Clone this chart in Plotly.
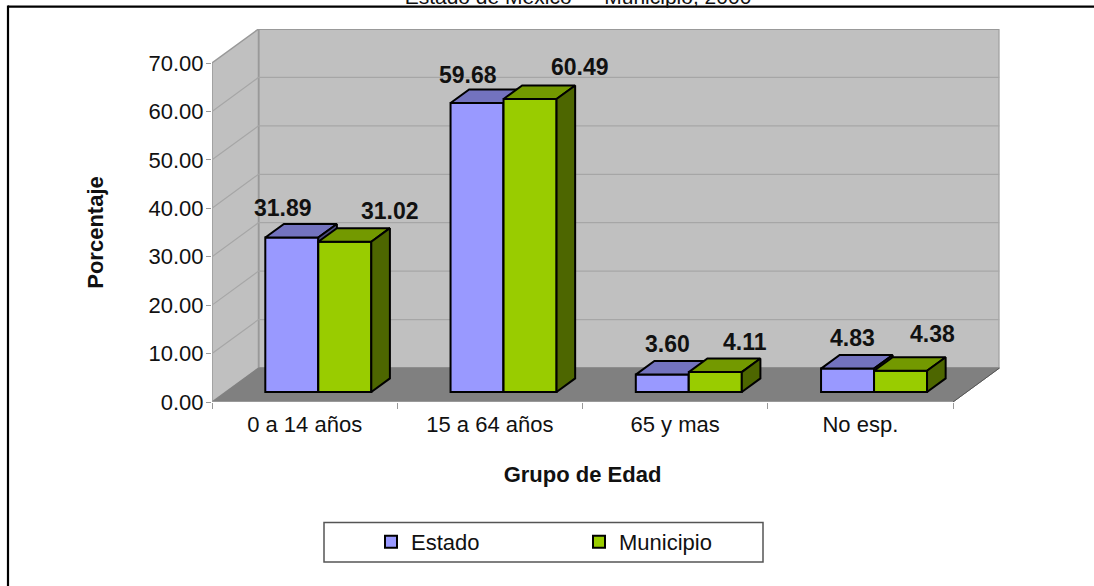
import plotly.graph_objects as go

# ---- data ----
categories = ["0 a 14 años", "15 a 64 años", "65 y mas", "No esp."]
estado = [31.89, 59.68, 3.60, 4.83]
municipio = [31.02, 60.49, 4.11, 4.38]
y_ticks = [0, 10, 20, 30, 40, 50, 60, 70]
title = "Estado de Mexico — Municipio, 2000"
x_title = "Grupo de Edad"
y_title = "Porcentaje"

# ---- layout geometry (pixels of the 1094x586 page) ----
W, H = 1094, 586
FRONT_L, FRONT_R, Y0, Y70 = 212.0, 953.0, 402.0, 63.0
BACK_X, BACK_Y = 46.5, 34.0           # oblique shift of the full depth
U = (FRONT_R - FRONT_L) / 4           # px per category
V = (Y0 - Y70) / 70                   # px per percent
DX, DY = BACK_X / U, BACK_Y / V       # full depth in data units
X_MAX, Y_MAX = 4 + DX, 70 + DY
BAR_W = 53 / U
D0, D1 = 10 / 34, 23.6 / 34           # front / back depth of the bars

px = lambda p: p / W
py = lambda p: 1 - p / H
dom_x = [px(FRONT_L), px(FRONT_L + BACK_X + 4 * U)]
dom_y = [py(Y0), py(Y70 - BACK_Y)]

BLUE, BLUE_TOP, BLUE_SIDE = "#9999FF", "#7373BF", "#4D4D80"
GREEN, GREEN_TOP, GREEN_SIDE = "#99CC00", "#739900", "#4D6600"
WALL, FLOOR, GRID, EDGE = "#C0C0C0", "#808080", "#A6A6A6", "#999999"
INK = "#111111"
FONT = "Liberation Sans, Arial, sans-serif"

fig = go.Figure()

# invisible carrier so the base axes (ticks, tick labels, titles) are drawn
fig.add_trace(go.Scatter(x=[0.5, 1.5, 2.5, 3.5], y=estado, mode="markers", marker=dict(opacity=0),
                         showlegend=False, hoverinfo="skip", xaxis="x", yaxis="y"))


def poly(xs, ys, fill, line, axes, width=1.0):
    fig.add_trace(go.Scatter(
        x=xs, y=ys, mode="lines", fill="toself" if fill else None, fillcolor=fill,
        line=dict(color=line, width=width), showlegend=False, hoverinfo="skip",
        xaxis=axes[0], yaxis=axes[1]))


# walls, floor, grid
A = ("x2", "y2")
poly([DX, 4 + DX, 4 + DX, DX, DX], [DY, DY, 70 + DY, 70 + DY, DY], WALL, EDGE, A, 2)
poly([0, DX, DX, 0, 0], [0, DY, 70 + DY, 70, 0], WALL, EDGE, A, 1.5)
for t in y_ticks[1:-1]:
    poly([0, DX, 4 + DX], [t, t + DY, t + DY], None, GRID, A, 1.2)
poly([0, 4, 4 + DX, DX, 0], [0, 0, DY, DY, 0], FLOOR, FLOOR, A, 1)
poly([0, 4], [0, 0], None, EDGE, A, 2)
poly([4, 4 + DX], [0, DY], None, "#555555", A, 1)


def series(name, values, color, top, side, sign, axes):
    xleft = [i + 0.5 + D0 * DX + (-BAR_W if sign < 0 else 0) for i in range(4)]
    base = D0 * DY
    fig.add_trace(go.Bar(
        name=name, x=[v + BAR_W / 2 for v in xleft], y=values, base=[base] * 4, width=BAR_W,
        marker=dict(color=color, line=dict(color="#000000", width=2)),
        xaxis=axes[0], yaxis=axes[1], hoverinfo="skip"))
    dd = (D1 - D0)
    sx, sy = dd * DX, dd * DY
    for xl, v in zip(xleft, values):
        xr, yb, yt = xl + BAR_W, base, base + v
        poly([xl, xl + sx, xr + sx, xr, xl], [yt, yt + sy, yt + sy, yt, yt], top, "#000000", axes, 2)
        poly([xr, xr + sx, xr + sx, xr, xr], [yb, yb + sy, yt + sy, yt, yb], side, "#000000", axes, 2)
    return xleft, base


xl_b, base = series("Estado", estado, BLUE, BLUE_TOP, BLUE_SIDE, -1, ("x3", "y3"))
xl_g, _ = series("Municipio", municipio, GREEN, GREEN_TOP, GREEN_SIDE, 1, ("x4", "y4"))

# data labels, anchored to the bar tops, nudged by the hand placement of the original
label_shift_estado = [(-8.5, 30), (-9, 27.5), (5.5, 31), (4.5, 31)]
label_shift_municipio = [(45, 31), (50, 32), (29.5, 30), (32, 37)]
annotations = []
for vals, lefts, shifts, ax in ((estado, xl_b, label_shift_estado, ("x3", "y3")),
                                (municipio, xl_g, label_shift_municipio, ("x4", "y4"))):
    for v, xl, (sx, sy) in zip(vals, lefts, shifts):
        annotations.append(dict(
            x=xl + BAR_W / 2, y=base + v, xref=ax[0], yref=ax[1], text=f"<b>{v:.2f}</b>",
            showarrow=False, xshift=sx, yshift=sy, xanchor="center", yanchor="middle",
            font=dict(family=FONT, size=23, color=INK)))

hidden = dict(visible=False, fixedrange=True, automargin=False)
layout_axes = dict(
    xaxis=dict(domain=[px(FRONT_L), px(FRONT_R)], range=[0, 4], anchor="y", automargin=False,
               tickmode="array", tickvals=[0.5, 1.5, 2.5, 3.5], ticktext=categories,
               ticks="", ticklen=0, showgrid=False, zeroline=False, showline=False,
               ticklabelstandoff=7,
               tickfont=dict(family=FONT, size=22, color=INK),
               minor=dict(tickmode="array", tickvals=[0, 1, 2, 3, 4], ticks="outside",
                          ticklen=6, tickcolor=EDGE, tickwidth=1, showgrid=False),
               title=dict(text=f"<b>{x_title}</b>", standoff=30,
                          font=dict(family=FONT, size=22, color=INK))),
    yaxis=dict(domain=[py(Y0), py(Y70)], range=[0, 70], anchor="x", automargin=False,
               tickmode="array", tickvals=y_ticks, tickformat=".2f",
               ticks="outside", ticklen=5, tickcolor=EDGE, tickwidth=1,
               ticklabelstandoff=-2,
               showgrid=False, zeroline=False, showline=False,
               tickfont=dict(family=FONT, size=22, color=INK),
               title=dict(text=f"<b>{y_title}</b>", standoff=38,
                          font=dict(family=FONT, size=22, color=INK))),
)
for n in (2, 3, 4):
    layout_axes[f"xaxis{n}"] = dict(domain=dom_x, range=[0, X_MAX], anchor=f"y{n}", **hidden)
    layout_axes[f"yaxis{n}"] = dict(domain=dom_y, range=[0, Y_MAX], anchor=f"x{n}", **hidden)

fig.update_layout(
    width=W, height=H, autosize=False,
    margin=dict(l=0, r=0, t=0, b=0, pad=0, autoexpand=False),
    paper_bgcolor="white", plot_bgcolor="rgba(0,0,0,0)",
    font=dict(family=FONT, color=INK),
    title=dict(text=title, x=578 / W, xref="paper", xanchor="center", y=0.993, yref="paper",
               yanchor="bottom", font=dict(family=FONT, size=21, color=INK)),
    barmode="overlay",
    legend=dict(orientation="h", x=px(371), xanchor="left", y=py(542), yanchor="middle",
                entrywidth=163, entrywidthmode="pixels", bgcolor="rgba(0,0,0,0)", borderwidth=0,
                font=dict(family=FONT, size=22, color=INK), traceorder="normal"),
    annotations=annotations,
    shapes=[
        dict(type="rect", xref="paper", yref="paper", x0=px(324), x1=px(763), y0=py(562), y1=py(522.5),
             line=dict(color="#555555", width=1.5), fillcolor="white", layer="below"),
        dict(type="line", xref="paper", yref="paper", x0=px(8), x1=1, y0=py(6.6), y1=py(6.6),
             line=dict(color="#000000", width=2.2)),
        dict(type="line", xref="paper", yref="paper", x0=px(8), x1=px(8), y0=py(5.5), y1=0,
             line=dict(color="#000000", width=2.2)),
    ],
    **layout_axes,
)

fig.write_html("out.html", config=dict(displayModeBar=False),
               post_script="document.body.style.margin='0';document.body.style.overflow='hidden';")
